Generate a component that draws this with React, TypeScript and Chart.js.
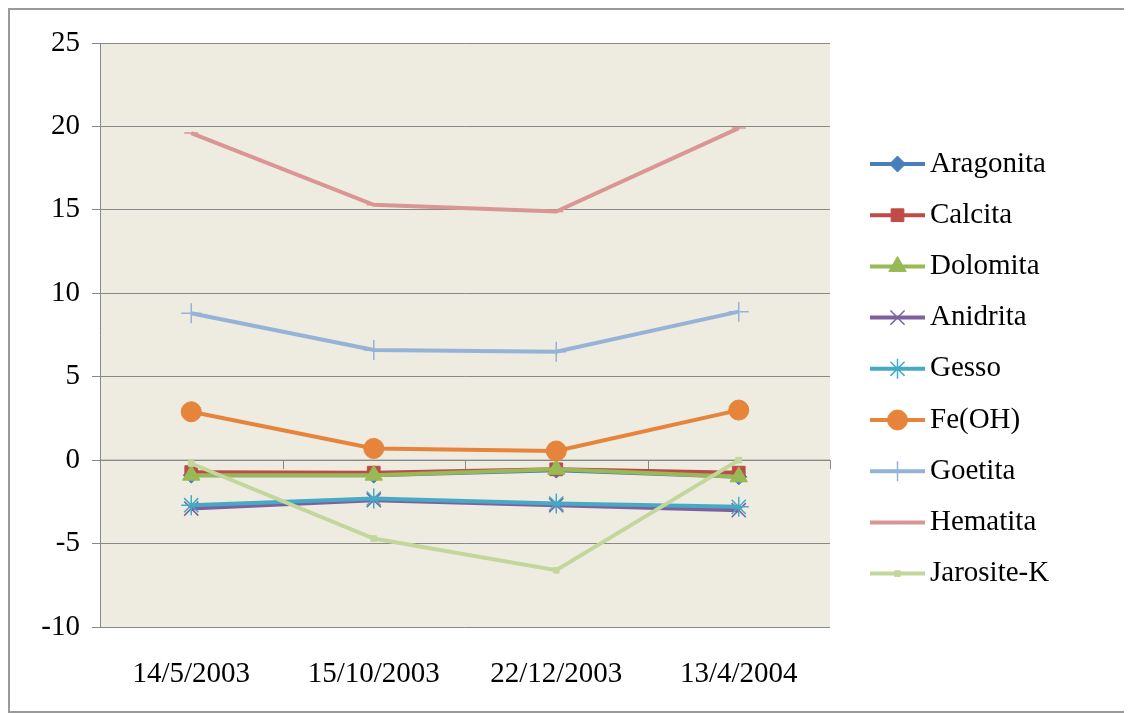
import React, { useEffect, useRef } from "react";
import { Chart, registerables } from "chart.js";
Chart.register(...registerables);

const categories = ["14/5/2003", "15/10/2003", "22/12/2003", "13/4/2004"];
const seriesNames = ["Aragonita", "Calcita", "Dolomita", "Anidrita", "Gesso", "Fe(OH)", "Goetita", "Hematita", "Jarosite-K"];
const aragonita = [-0.9, -0.9, -0.6, -1.0];
const calcita = [-0.72, -0.75, -0.55, -0.75];
const dolomita = [-0.9, -0.9, -0.55, -1.0];
const anidrita = [-2.9, -2.4, -2.7, -3.0];
const gesso = [-2.7, -2.3, -2.6, -2.8];
const feoh = [2.9, 0.7, 0.55, 3.0];
const goetita = [8.8, 6.6, 6.5, 8.9];
const hematita = [19.6, 15.3, 14.9, 19.9];
const jarosite = [-0.2, -4.7, -6.6, 0];
const yTicks = [-10, -5, 0, 5, 10, 15, 20, 25];

const colors = ["#4A7EBB", "#BE4B48", "#98B954", "#7D60A0", "#46AAC5", "#E5843A", "#95B3D7", "#D99694", "#C3D69B"];
const styles: any[] = ["rectRot", "rect", "triangle", "crossRot", "star", "circle", "cross", "line", "rect"];
const radii = [8, 9, 10, 10, 10, 10, 10, 7, 4];
const values = [aragonita, calcita, dolomita, anidrita, gesso, feoh, goetita, hematita, jarosite];

export default function App() {
  const ref = useRef<HTMLCanvasElement>(null);
  useEffect(() => {
    const font = "'Liberation Serif', 'Times New Roman', serif";
    const legendPlugin = {
      id: "legendCustom",
      afterDraw(chart: any) {
        const ctx = chart.ctx;
        ctx.save();
        chart.data.datasets.forEach((ds: any, i: number) => {
          const y = 154 + i * 51.2;
          const x0 = 860, x1 = 915;
          ctx.strokeStyle = ds.borderColor;
          ctx.lineWidth = 4;
          ctx.beginPath(); ctx.moveTo(x0, y); ctx.lineTo(x1, y); ctx.stroke();
          ctx.fillStyle = "#000";
          ctx.font = "29px " + font;
          ctx.textBaseline = "middle";
          ctx.fillText(ds.label, 920, y);
        });
        ctx.restore();
        chart.data.datasets.forEach((ds: any, i: number) => {
          const y = 154 + i * 51.2;
          const meta = chart.getDatasetMeta(i);
          const el = meta.data[0];
          if (el && (el as any).draw) {
            const sx = el.x, sy = el.y;
            el.x = 887.5; el.y = y;
            el.draw(ctx, { left: 0, top: 0, right: 2000, bottom: 2000 });
            el.x = sx; el.y = sy;
          }
        });
      },
      beforeDatasetsDraw(chart: any) {
        const ctx = chart.ctx;
        const y0 = chart.scales.y.getPixelForValue(0);
        const { left, right } = chart.chartArea;
        ctx.save();
        ctx.strokeStyle = "#888";
        ctx.lineWidth = 1;
        ctx.beginPath(); ctx.moveTo(left, y0); ctx.lineTo(right, y0);
        const step = (right - left) / categories.length;
        for (let k = 0; k <= categories.length; k++) {
          const x = Math.round(left + k * step) + 0.5;
          ctx.moveTo(x, y0); ctx.lineTo(x, y0 + 9);
        }
        ctx.stroke();
        ctx.restore();
      },
    };
    const chart = new Chart(ref.current!, {
      type: "line",
      data: {
        labels: categories,
        datasets: seriesNames.map((n, i) => ({
          label: n,
          data: values[i],
          order: seriesNames.length - i,
          borderColor: colors[i],
          backgroundColor: colors[i],
          borderWidth: 4,
          pointStyle: styles[i],
          pointRadius: radii[i],
          pointBorderWidth: styles[i] === "crossRot" || styles[i] === "star" || styles[i] === "cross" || styles[i] === "line" ? 1.5 : 1,
          tension: 0,
        })),
      },
      options: {
        responsive: false,
        animation: false,
        layout: { padding: { left: 0, right: 294, top: 33, bottom: 0 } },
        plugins: { legend: { display: false }, tooltip: { enabled: false } },
        scales: {
          x: {
            offset: true,
            grid: { display: false },
            border: { display: false },
            ticks: { color: "#000", font: { family: font, size: 29 }, padding: 22, maxRotation: 0 },
            afterFit: (s: any) => { s.height = 84; },
          },
          y: {
            min: -10, max: 25,
            afterBuildTicks: (s: any) => { s.ticks = yTicks.map((v) => ({ value: v })); },
            grid: { color: "#888", lineWidth: 1, tickLength: 8 },
            border: { color: "#888" },
            ticks: { color: "#000", font: { family: font, size: 29 }, padding: 12 },
            afterFit: (s: any) => { s.width = 90; },
          },
        },
      },
      plugins: [
        {
          id: "bg",
          beforeDraw(c: any) {
            const { left, top, right, bottom } = c.chartArea;
            c.ctx.save();
            c.ctx.fillStyle = "#EEEBE0";
            c.ctx.fillRect(left, top, right - left, bottom - top);
            c.ctx.restore();
          },
        },
        legendPlugin,
      ],
    });
    return () => chart.destroy();
  }, []);
  return (
    <div style={{ width: 1118, height: 705, border: "2px solid #9a9a9a", boxSizing: "border-box", background: "#fff" }}>
      <canvas ref={ref} width={1114} height={701} style={{ display: "block" }} />
    </div>
  );
}
